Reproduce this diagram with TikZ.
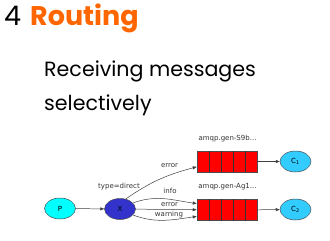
\documentclass[tikz,border=0pt]{standalone}
\usepackage{fontspec}
\setmainfont{Poppins}
\newfontfamily\gvfont{DejaVu Sans}
\usepackage{xcolor}
\definecolor{colTitle}{RGB}{255,102,0}
\definecolor{colProd}{RGB}{0,255,255}
\definecolor{colExch}{RGB}{51,51,204}
\definecolor{colQueue}{RGB}{255,0,0}
\definecolor{colCons}{RGB}{51,204,255}
\usepackage{tikz}
\usetikzlibrary{arrows.meta, positioning, calc, shapes.geometric}

\begin{document}
\begin{tikzpicture}[x=1pt, y=-1pt,
		gvnode/.style={ellipse, draw=black!70, line width=0.5pt, minimum width=31pt, minimum height=21pt, inner sep=0pt, font=\gvfont\fontsize{7}{8}\selectfont},
		queue/.style={rectangle, draw=black!70, line width=0.5pt, fill=colQueue, minimum width=60pt, minimum height=21pt, inner sep=0pt},
		gvedge/.style={draw=black!75, line width=0.5pt, -{Triangle[length=4pt, width=3pt]}},
		lbl/.style={font=\gvfont\fontsize{7}{8}\selectfont, text=black!80, inner sep=0pt}]
	\useasboundingbox (0,0) rectangle (330,241);
	% title and subtitle
	\node[anchor=base west, inner sep=0pt, font=\fontsize{27}{30}\selectfont] (num) at (4,26) {4};
	\node[anchor=base west, inner sep=0pt, font=\fontsize{27}{30}\selectfont\bfseries, text=colTitle] (title) at (30,25) {Routing};
	\node[anchor=base west, inner sep=0pt, font=\fontsize{20.6}{24}\selectfont] (sub1) at (44,76) {Receiving messages};
	\node[anchor=base west, inner sep=0pt, font=\fontsize{20.6}{24}\selectfont] (sub2) at (44,110) {selectively};
	% graph
	\node[gvnode, fill=colProd] (p) at (60,208.5) {P};
	\node[gvnode, fill=colExch] (x) at (120,209) {X};
	\node[queue] (q1) at (227,161.5) {};
	\node[queue] (q2) at (227,210) {};
	\foreach \i in {1,...,4} {
		\draw[black!80, line width=0.5pt] ($(q1.north west)+(12*\i,0)$) -- ($(q1.south west)+(12*\i,0)$);
		\draw[black!80, line width=0.5pt] ($(q2.north west)+(12*\i,0)$) -- ($(q2.south west)+(12*\i,0)$);
	}
	\node[gvnode, fill=colCons] (c1) at (295.5,161.5) {C\textsubscript{1}};
	\node[gvnode, fill=colCons] (c2) at (295.5,209.5) {C\textsubscript{2}};
	\node[lbl] (n1) at (227.5,138.5) {amqp.gen-S9b...};
	\node[lbl] (n2) at (227.5,187) {amqp.gen-Ag1...};
	\node[lbl] (xt) at (119,187) {type=direct};
	\draw[gvedge] (p) -- (x);
	\draw[gvedge] (x.60) to[out=35, in=195] (q1.190);
	\draw[gvedge] (x.25) to[out=20, in=172] (q2.168);
	\draw[gvedge] (x) -- (q2);
	\draw[gvedge] (x.-25) to[out=-20, in=188] (q2.192);
	\node[lbl] (e1) at (169.5,166) {error};
	\node[lbl] (e2) at (170,191) {info};
	\node[lbl] (e3) at (169.5,204.5) {error};
	\node[lbl] (e4) at (169,215) {warning};
	\draw[gvedge] (q1) -- (c1);
	\draw[gvedge] (q2) -- (c2);
\end{tikzpicture}
\end{document}
